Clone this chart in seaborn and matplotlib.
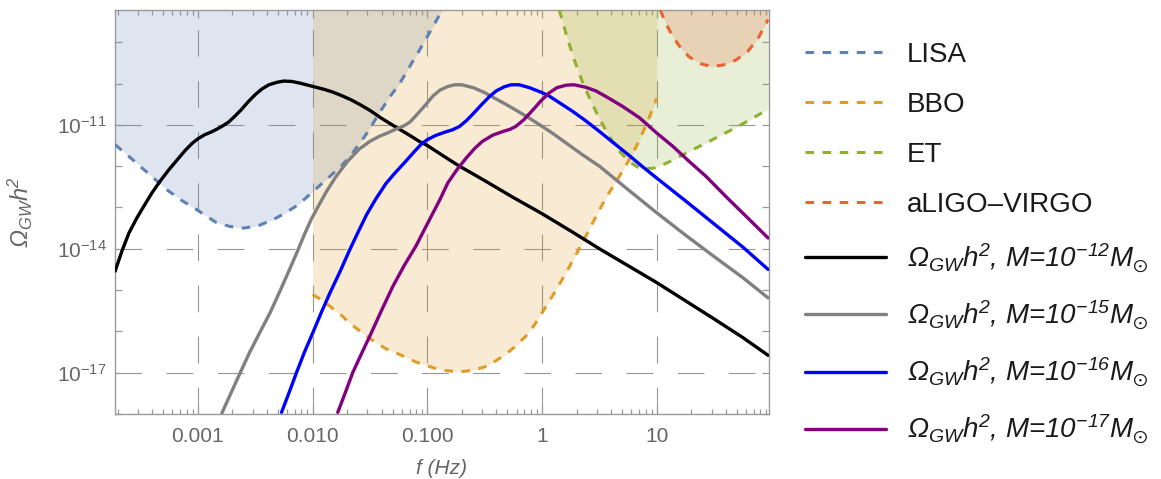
import numpy as np
import matplotlib
matplotlib.use("Agg")
import matplotlib.pyplot as plt
import matplotlib.ticker as mticker
import seaborn as sns

# Values: log10(f / Hz) and log10(Omega_GW h^2)
lisa_logf = [-3.72, -3.61, -3.50, -3.38, -3.27, -3.14, -3.01, -2.92, -2.84, -2.72, -2.60, -2.47, -2.34, -2.24, -2.14, -2.07,
             -2.01, -1.93, -1.85, -1.77, -1.70, -1.64, -1.59, -1.52, -1.45, -1.38, -1.31, -1.24, -1.16, -1.07, -0.97, -0.87]
lisa_logo = [-11.48, -11.74, -12.01, -12.30, -12.57, -12.83, -13.05, -13.22, -13.36, -13.46, -13.50, -13.44, -13.29, -13.14, -12.96, -12.80,
             -12.65, -12.45, -12.25, -12.05, -11.85, -11.64, -11.45, -11.18, -10.86, -10.55, -10.26, -10.00, -9.62, -9.20, -8.72, -8.22]

bbo_logf = [-2.00, -1.92, -1.85, -1.76, -1.68, -1.57, -1.47, -1.36, -1.24, -1.10, -0.95, -0.83, -0.72, -0.60, -0.50, -0.43, -0.33,
            -0.24, -0.14, -0.07, 0.00, 0.10, 0.21, 0.30, 0.38, 0.47, 0.56, 0.64, 0.71, 0.79, 0.86, 0.93, 1.00]
bbo_logo = [-15.11, -15.24, -15.39, -15.58, -15.79, -16.03, -16.23, -16.42, -16.56, -16.74, -16.88, -16.95, -16.98, -16.94, -16.86, -16.76, -16.58,
            -16.38, -16.11, -15.86, -15.55, -15.10, -14.58, -14.12, -13.70, -13.22, -12.75, -12.40, -12.08, -11.70, -11.30, -10.85, -10.36]

et_logf = [0.15, 0.22, 0.29, 0.36, 0.43, 0.50, 0.59, 0.68, 0.76, 0.83, 0.90, 0.97, 1.05, 1.12, 1.19, 1.30, 1.43, 1.56, 1.70, 1.83, 1.97]
et_logo = [-8.22, -8.90, -9.50, -10.02, -10.45, -10.85, -11.30, -11.66, -11.89, -12.02, -12.06, -12.05, -11.97, -11.88, -11.78, -11.62,
           -11.44, -11.25, -11.05, -10.85, -10.62]

ligo_logf = [1.03, 1.08, 1.14, 1.21, 1.28, 1.38, 1.48, 1.58, 1.69, 1.79, 1.88, 1.97]
ligo_logo = [-8.22, -8.55, -8.87, -9.14, -9.35, -9.52, -9.59, -9.55, -9.43, -9.23, -8.92, -8.45]

m12_logf = [-3.72, -3.66, -3.60, -3.53, -3.47, -3.40, -3.33, -3.25, -3.18, -3.11, -3.05, -3.00, -2.94, -2.88, -2.83, -2.78,
            -2.73, -2.68, -2.62, -2.56, -2.50, -2.44, -2.38, -2.31, -2.25, -2.18, -2.11, -2.04, -1.97, -1.90, -1.82, -1.74,
            -1.66, -1.58, -1.50, -1.40, -1.30, -1.24, -1.15, -1.07, -1.00, -0.90, -0.80, -0.72, -0.60, -0.50, -0.25, 0.00,
            0.25, 0.50, 0.75, 1.00, 1.25, 1.50, 1.75, 1.97]
m12_logo = [-14.54, -14.05, -13.62, -13.25, -12.97, -12.65, -12.37, -12.08, -11.85, -11.62, -11.45, -11.34, -11.24, -11.17, -11.10, -11.02,
            -10.93, -10.80, -10.63, -10.44, -10.27, -10.13, -10.03, -9.97, -9.94, -9.95, -9.99, -10.04, -10.09, -10.14, -10.21, -10.30,
            -10.40, -10.52, -10.65, -10.84, -11.01, -11.11, -11.26, -11.40, -11.50, -11.68, -11.86, -12.00, -12.19, -12.35, -12.76, -13.15,
            -13.57, -14.00, -14.41, -14.82, -15.26, -15.70, -16.15, -16.58]

m15_logf = [-2.79, -2.72, -2.63, -2.55, -2.46, -2.37, -2.28, -2.20, -2.13, -2.07, -2.01, -1.94, -1.88, -1.80, -1.70, -1.59,
            -1.50, -1.42, -1.34, -1.27, -1.20, -1.15, -1.08, -1.01, -0.95, -0.89, -0.82, -0.76, -0.70, -0.60, -0.50, -0.43,
            -0.33, -0.23, -0.12, -0.02, 0.10, 0.21, 0.35, 0.50, 0.75, 1.00, 1.25, 1.50, 1.75, 1.97]
m15_logo = [-17.98, -17.55, -17.00, -16.52, -16.03, -15.55, -15.00, -14.50, -14.05, -13.65, -13.28, -12.92, -12.62, -12.27, -11.90, -11.58,
            -11.40, -11.28, -11.19, -11.10, -11.02, -10.93, -10.72, -10.50, -10.30, -10.16, -10.07, -10.03, -10.03, -10.10, -10.22, -10.33,
            -10.48, -10.64, -10.82, -11.00, -11.22, -11.44, -11.72, -12.00, -12.57, -13.13, -13.67, -14.19, -14.70, -15.19]

m16_logf = [-2.27, -2.20, -2.14, -2.07, -2.00, -1.92, -1.85, -1.76, -1.68, -1.60, -1.53, -1.45, -1.36, -1.28, -1.20, -1.12,
            -1.05, -1.00, -0.93, -0.85, -0.78, -0.72, -0.66, -0.60, -0.53, -0.46, -0.40, -0.33, -0.27, -0.20, -0.11, 0.00,
            0.06, 0.16, 0.27, 0.38, 0.50, 0.62, 0.75, 0.87, 1.00, 1.25, 1.50, 1.75, 1.97]
m16_logo = [-17.96, -17.45, -17.00, -16.50, -16.05, -15.52, -15.08, -14.55, -14.05, -13.58, -13.18, -12.80, -12.42, -12.16, -11.92, -11.67,
            -11.46, -11.36, -11.26, -11.18, -11.12, -11.04, -10.90, -10.73, -10.52, -10.32, -10.18, -10.08, -10.03, -10.03, -10.10, -10.22,
            -10.30, -10.48, -10.68, -10.90, -11.16, -11.43, -11.72, -12.00, -12.29, -12.84, -13.40, -13.96, -14.50]

m17_logf = [-1.78, -1.71, -1.65, -1.57, -1.50, -1.40, -1.30, -1.20, -1.10, -1.00, -0.89, -0.82, -0.74, -0.66, -0.59, -0.52,
            -0.43, -0.34, -0.28, -0.23, -0.16, -0.08, -0.01, 0.06, 0.13, 0.21, 0.28, 0.38, 0.47, 0.56, 0.70, 0.85,
            1.00, 1.14, 1.28, 1.43, 1.60, 1.78, 1.97]
m17_logo = [-17.96, -17.45, -17.00, -16.52, -16.11, -15.50, -14.91, -14.40, -13.94, -13.40, -12.81, -12.40, -12.08, -11.80, -11.58, -11.40,
            -11.25, -11.16, -11.11, -11.04, -10.88, -10.64, -10.42, -10.23, -10.10, -10.04, -10.03, -10.09, -10.18, -10.32, -10.55, -10.83,
            -11.20, -11.52, -11.88, -12.25, -12.73, -13.22, -13.74]

detectors = ["LISA", "BBO", "ET", "aLIGO\u2013VIRGO"]
masses = ["-12", "-15", "-16", "-17"]

x_ticks = [1e-3, 1e-2, 1e-1, 1, 10]
x_tick_labels = ["0.001", "0.010", "0.100", "1", "10"]
y_label_exps = [-17, -14, -11]
y_plain_exps = [-18, -16, -15, -13, -12, -10, -9]

X_MIN, X_MAX = 1.9e-4, 95
Y_MIN, Y_MAX = 1e-18, 10 ** -8.22

sns.set_style("ticks")
plt.rcParams["font.family"] = ["Liberation Sans", "DejaVu Sans"]
plt.rcParams["mathtext.fontset"] = "custom"
plt.rcParams["mathtext.rm"] = "Liberation Sans"
plt.rcParams["mathtext.it"] = "Liberation Sans:italic"
plt.rcParams["mathtext.default"] = "regular"

GRAY = "#666666"
FRAME = "#9a9a9a"

fig = plt.figure(figsize=(11.61, 4.79), dpi=100)
ax = fig.add_axes([115 / 1161, 65 / 479, 654 / 1161, 404 / 479])

det_colors = ["#5e81b5", "#e19c24", "#8fb032", "#eb6235"]
det_data = [(lisa_logf, lisa_logo), (bbo_logf, bbo_logo), (et_logf, et_logo), (ligo_logf, ligo_logo)]

# sensitivity regions, filled up past the top of the frame
for (lf, lo), c in zip(det_data, det_colors):
    ax.fill_between(np.power(10.0, lf), np.power(10.0, lo), 1e-6, color=c, alpha=0.2, lw=0, zorder=1)

for (lf, lo), c, name in zip(det_data, det_colors, detectors):
    sns.lineplot(x=np.power(10.0, lf), y=np.power(10.0, lo), ax=ax, color=c, lw=2.2,
                 linestyle=(0, (2.8, 2.8)), estimator=None, sort=False, label=name, zorder=3)

model_colors = ["#000000", "#808080", "#0000ff", "#800080"]
model_data = [(m12_logf, m12_logo), (m15_logf, m15_logo), (m16_logf, m16_logo), (m17_logf, m17_logo)]
for (lf, lo), c, m in zip(model_data, model_colors, masses):
    lab = "\u03a9$_{GW}$h$^{2}$, M=10$^{%s}$M$_{\\odot}$" % m
    sns.lineplot(x=np.power(10.0, lf), y=np.power(10.0, lo), ax=ax, color=c, lw=2.4,
                 estimator=None, sort=False, label=lab, zorder=4)

ax.set_xscale("log")
ax.set_yscale("log")
ax.set_xlim(X_MIN, X_MAX)
ax.set_ylim(Y_MIN, Y_MAX)

# ticks
ax.xaxis.set_major_locator(mticker.FixedLocator(x_ticks))
ax.xaxis.set_major_formatter(mticker.FixedFormatter(x_tick_labels))
ax.xaxis.set_minor_locator(mticker.LogLocator(base=10, subs=np.arange(2, 10), numticks=20))
ax.xaxis.set_minor_formatter(mticker.NullFormatter())
ax.yaxis.set_major_locator(mticker.FixedLocator([10.0 ** e for e in y_label_exps]))
ax.yaxis.set_major_formatter(mticker.FixedFormatter([r"$10^{%d}$" % e for e in y_label_exps]))
ax.yaxis.set_minor_locator(mticker.FixedLocator([10.0 ** e for e in y_plain_exps]))
ax.yaxis.set_minor_formatter(mticker.NullFormatter())

ax.tick_params(which="both", direction="in", top=True, right=True, color=FRAME,
               labelcolor=GRAY, labelsize=15, width=0.9)
ax.tick_params(axis="x", which="major", length=6, pad=9)
ax.tick_params(axis="x", which="minor", length=3.5)
ax.tick_params(axis="y", which="both", length=5, pad=6)

ax.grid(True, which="major", color="#8a8a8a", lw=0.8, ls=(0, (24, 22)), alpha=0.9)
for s in ax.spines.values():
    s.set_color(FRAME)
    s.set_linewidth(1.0)

ax.set_xlabel("f (Hz)", fontsize=15, color=GRAY, style="italic", labelpad=10)
ax.set_ylabel("\u03a9$_{GW}$h$^{2}$", fontsize=17, color=GRAY, style="italic")
ax.yaxis.set_label_coords(-0.123, 0.5)

leg = ax.legend(loc="upper left", bbox_to_anchor=(805 / 1161, 1 - 42 / 479), bbox_transform=fig.transFigure,
                frameon=False, fontsize=20, handlelength=2.9, handletextpad=0.78, labelspacing=0.86,
                borderaxespad=0, borderpad=0)
for t in leg.get_texts()[4:]:
    t.set_fontstyle("italic")
for t in leg.get_texts():
    t.set_color("#1a1a1a")

fig.savefig("out.png", dpi=100)
